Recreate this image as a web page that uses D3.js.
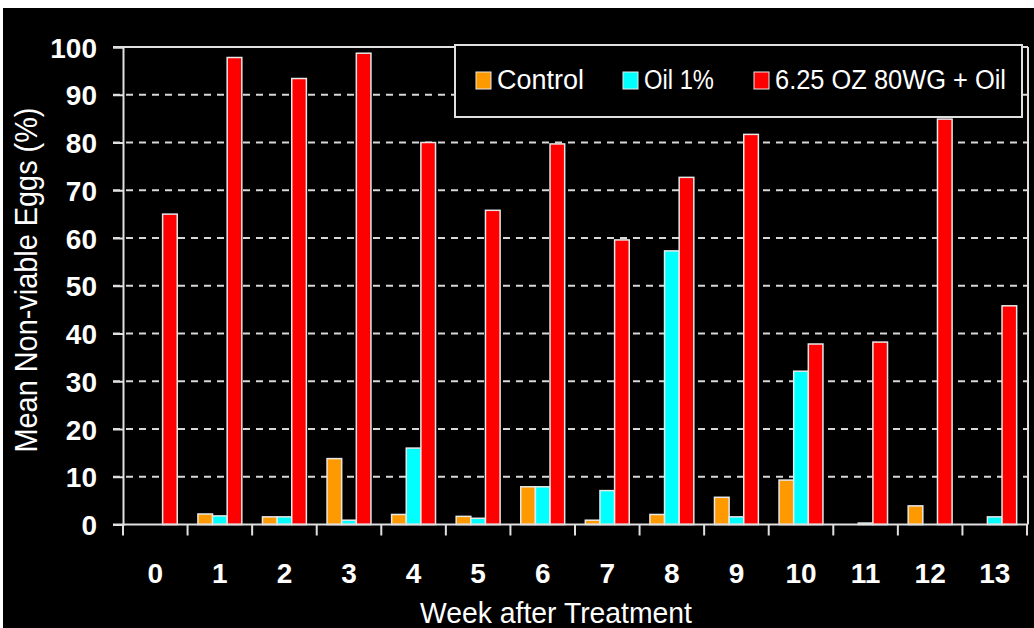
<!DOCTYPE html>
<html>
<head>
<meta charset="utf-8">
<script src="https://cdn.jsdelivr.net/npm/d3@7"></script>
<style>
  body { margin: 0; background: #fff; }
  svg { display: block; }
  text { font-family: "Liberation Sans", Arial, sans-serif; fill: #fff; }
</style>
</head>
<body>
<script>
var width = 1034
var height = 628

// weeks after treatment
var weeks = ["0", "1", "2", "3", "4", "5", "6", "7", "8", "9", "10", "11", "12", "13"]
var seriesNames = ["Control", "Oil 1%", "6.25 OZ 80WG + Oil"]
var seriesColors = ["#ff9900", "#00ffff", "#ff0000"]

// mean non-viable eggs (%)
var control = [0, 2.2, 1.6, 13.8, 2.1, 1.7, 7.9, 0.9, 2.1, 5.7, 9.3, 0, 3.9, 0]
var oil = [0, 1.8, 1.6, 0.9, 16.0, 1.3, 7.9, 7.1, 57.3, 1.6, 32.1, 0.3, 0, 1.6]
var treated = [65.0, 97.8, 93.4, 98.7, 80.0, 65.8, 79.7, 59.6, 72.7, 81.7, 37.8, 38.2, 84.9, 45.8]

var yTicks = [0, 10, 20, 30, 40, 50, 60, 70, 80, 90, 100]

var series = [control, oil, treated]

const plotLeft = 123, plotRight = 1028, plotTop = 47, plotBottom = 524.5

const svg = d3.select("body").append("svg")
  .attr("width", width)
  .attr("height", height)

// black background, small white margin at top/left like the original
svg.append("rect")
  .attr("x", 3).attr("y", 8)
  .attr("width", width - 3).attr("height", height - 8)
  .attr("fill", "#000")

const x = d3.scaleBand()
  .domain(weeks)
  .range([plotLeft, 1027])
  .paddingInner(0.32)
  .paddingOuter(0.16)

const xs = d3.scaleBand()
  .domain(d3.range(series.length))
  .range([0, x.bandwidth()])

const y = d3.scaleLinear()
  .domain([0, 100])
  .range([plotBottom, plotTop])

// dashed grid lines
svg.append("g")
  .selectAll("line")
  .data(yTicks.filter(d => d > 0 && d < 100))
  .join("line")
  .attr("x1", 113).attr("x2", plotRight)
  .attr("y1", d => y(d)).attr("y2", d => y(d))
  .attr("stroke", "#d8d8d8")
  .attr("stroke-width", 2)
  .attr("stroke-dasharray", "7,6")

// frame: top and right border
svg.append("line")
  .attr("x1", 113).attr("x2", plotRight)
  .attr("y1", y(100)).attr("y2", y(100))
  .attr("stroke", "#e0e0e0").attr("stroke-width", 2)
svg.append("line")
  .attr("x1", plotRight).attr("x2", plotRight)
  .attr("y1", y(100)).attr("y2", plotBottom)
  .attr("stroke", "#e0e0e0").attr("stroke-width", 2)

// bars
const bars = []
weeks.forEach((w, i) => {
  series.forEach((s, j) => {
    if (s[i] > 0) bars.push({ week: w, k: j, value: s[i] })
  })
})

svg.append("g")
  .selectAll("rect")
  .data(bars)
  .join("rect")
  .attr("x", d => x(d.week) + xs(d.k))
  .attr("width", xs.bandwidth())
  .attr("y", d => y(d.value))
  .attr("height", d => y(0) - y(d.value))
  .attr("fill", d => seriesColors[d.k])
  .attr("stroke", "#e8e8e8")
  .attr("stroke-width", 1.5)

// y axis
const yAxis = svg.append("g")
  .attr("transform", `translate(${plotLeft},0)`)
  .call(d3.axisLeft(y).tickValues(yTicks).tickSize(10).tickPadding(16))
yAxis.select(".domain").attr("stroke", "#e0e0e0").attr("stroke-width", 2)
yAxis.selectAll(".tick line").attr("stroke", "#e0e0e0").attr("stroke-width", 2)
yAxis.selectAll(".tick text")
  .attr("fill", "#fff")
  .attr("font-size", 28)
  .attr("font-weight", "bold")
  .attr("font-family", "Liberation Sans, Arial, sans-serif")
  .attr("dy", "0.36em")

// x axis line with ticks at category boundaries
svg.append("line")
  .attr("x1", 113).attr("x2", plotRight)
  .attr("y1", plotBottom).attr("y2", plotBottom)
  .attr("stroke", "#e0e0e0").attr("stroke-width", 2)

const step = x.step()
svg.append("g")
  .selectAll("line")
  .data(weeks.concat(["end"]))
  .join("line")
  .attr("x1", (d, i) => plotLeft + i * step)
  .attr("x2", (d, i) => plotLeft + i * step)
  .attr("y1", plotBottom).attr("y2", plotBottom + 11)
  .attr("stroke", "#e0e0e0").attr("stroke-width", 2)

svg.append("g")
  .selectAll("text")
  .data(weeks)
  .join("text")
  .attr("x", d => x(d) + x.bandwidth() / 2)
  .attr("y", 583)
  .attr("text-anchor", "middle")
  .attr("font-size", 28)
  .attr("font-weight", "bold")
  .text(d => d)

// axis titles
svg.append("text")
  .attr("x", 556).attr("y", 623)
  .attr("text-anchor", "middle")
  .attr("font-size", 30)
  .attr("textLength", 272)
  .attr("lengthAdjust", "spacingAndGlyphs")
  .text("Week after Treatment")

svg.append("text")
  .attr("transform", "translate(37,280) rotate(-90)")
  .attr("text-anchor", "middle")
  .attr("font-size", 31)
  .attr("textLength", 345)
  .attr("lengthAdjust", "spacingAndGlyphs")
  .text("Mean Non-viable Eggs (%)")

// legend
const legend = svg.append("g")
legend.append("rect")
  .attr("x", 455).attr("y", 45)
  .attr("width", 567).attr("height", 72)
  .attr("fill", "#000")
  .attr("stroke", "#e0e0e0").attr("stroke-width", 2)

var legendX = [476, 623, 754]
var legendW = [87, 70, 231]
legend.selectAll("rect.sw")
  .data(seriesNames)
  .join("rect")
  .attr("class", "sw")
  .attr("x", (d, i) => legendX[i])
  .attr("y", 72)
  .attr("width", 15).attr("height", 17)
  .attr("fill", (d, i) => seriesColors[i])
  .attr("stroke", "#e8e8e8").attr("stroke-width", 1)

legend.selectAll("text")
  .data(seriesNames)
  .join("text")
  .attr("x", (d, i) => legendX[i] + 21)
  .attr("y", 89)
  .attr("font-size", 27)
  .attr("textLength", (d, i) => legendW[i])
  .attr("lengthAdjust", "spacingAndGlyphs")
  .text(d => d)
</script>
</body>
</html>
